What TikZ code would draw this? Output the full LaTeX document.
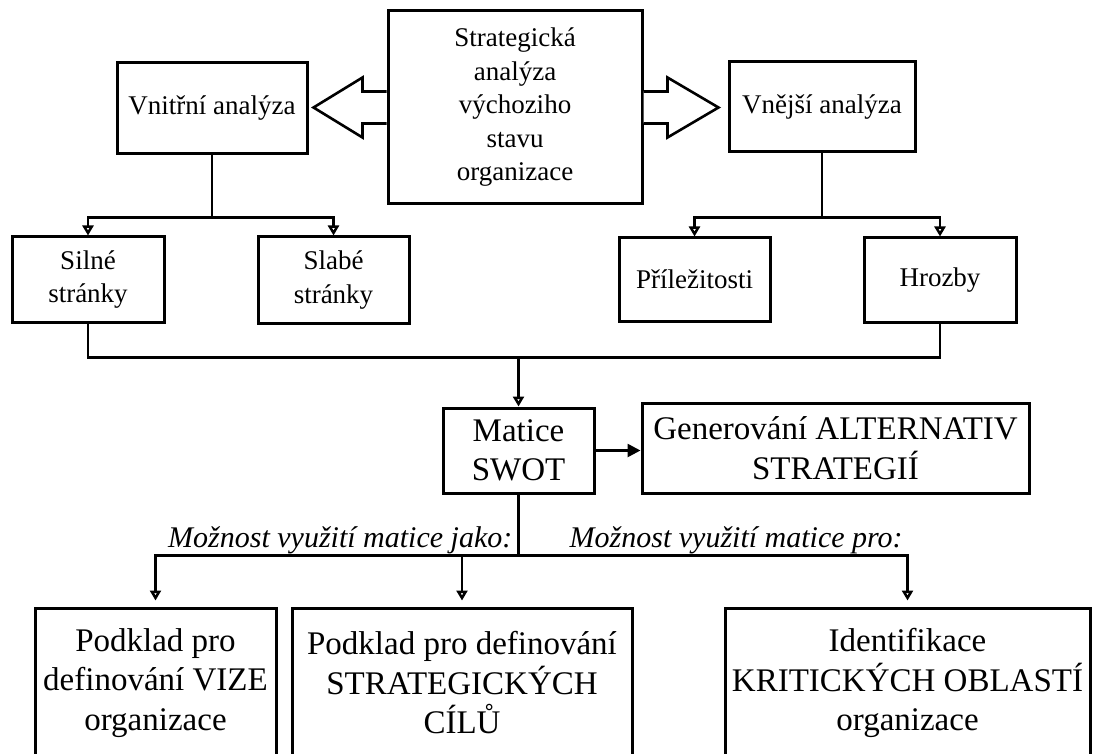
\documentclass[tikz,border=0pt]{standalone}
\usepackage{fontspec}
\setmainfont{Liberation Serif}
\usetikzlibrary{arrows.meta,calc}

\tikzset{
  box/.style={draw,line width=3pt,inner sep=0pt,align=center,font=\fontsize{27}{33.5}\selectfont},
  bigbox/.style={box,font=\fontsize{33}{39.5}\selectfont},
  link/.style={line width=2.6pt,line cap=rect},
  arr/.style={link,-{Triangle[open,length=10pt,width=11pt]}},
  solidarr/.style={link,-{Triangle[length=13pt,width=13pt]}},
  fat/.style={line width=2.6pt,fill=white,line join=miter},
  note/.style={font=\fontsize{30}{36}\selectfont\itshape,inner sep=0pt}
}

\begin{document}
\begin{tikzpicture}[x=1pt,y=-1pt]
    \useasboundingbox (0,0) rectangle (1093,754);
    \clip (0,0) rectangle (1093,754);
    % top row
    \node[box,minimum width=254pt,minimum height=193pt] (S) at (515,107.5) {Strategická\\analýza\\výchoziho\\stavu\\organizace};
    \node[box,minimum width=190pt,minimum height=91pt] (VA) at (212,108.5) {Vnitřní analýza};
    \node[box,minimum width=186pt,minimum height=90pt] (EA) at (822,107) {Vnější analýza};
    \draw[fat] ($(S.west)+(0,-16)$) -- ++(-24,0) -- ++(0,-14) -- ++(-49,30) -- ++(49,30) -- ++(0,-14) -- ++(24,0);
    \draw[fat] ($(S.east)+(0,-16)$) -- ++(24,0) -- ++(0,-14) -- ++(51,30) -- ++(-51,30) -- ++(0,-14) -- ++(-24,0);
    % S W O T
    \node[box,minimum width=152pt,minimum height=85pt] (SW) at (88,279.5) {Silné\\stránky};
    \node[box,minimum width=151pt,minimum height=86pt] (WE) at (333.5,280) {Slabé\\stránky};
    \node[box,minimum width=151pt,minimum height=83pt] (OP) at (694.5,279.5) {Příležitosti};
    \node[box,minimum width=152pt,minimum height=84pt] (TH) at (940,280) {Hrozby};
    \draw[link] (VA.south) -- ++(0,62) coordinate (vsplit);
    \draw[link] (EA.south) -- ++(0,64) coordinate (esplit);
    \foreach \b in {SW,WE} \draw[arr] (vsplit) -| (\b.north);
    \foreach \b in {OP,TH} \draw[arr] (esplit) -| (\b.north);
    % matrix
    \node[bigbox,minimum width=151pt,minimum height=85pt] (M) at (518.5,450.5) {Matice\\SWOT};
    \node[bigbox,minimum width=387pt,minimum height=90pt] (G) at (835.5,448) {Generování ALTERNATIV\\STRATEGIÍ};
    \coordinate (join) at ($(SW.south)+(0,34)$);
    \draw[link] (SW.south) -- (join) -| (TH.south);
    \draw[arr] (join -| M.north) -- (M.north);
    \draw[solidarr] (M.east) -- (M.east -| G.west);
    % uses
    \node[bigbox,minimum width=241pt,minimum height=150pt] (P1) at (155.5,683) {Podklad pro\\definování VIZE\\organizace};
    \node[bigbox,minimum width=340pt,minimum height=150pt] (P2) at (462,683) {Podklad pro definování\\STRATEGICKÝCH\\CÍLŮ};
    \node[bigbox,minimum width=365pt,minimum height=150pt] (P3) at (907.5,683) {Identifikace\\KRITICKÝCH OBLASTÍ\\organizace};
    \draw[link] (M.south) -- ++(0,61) coordinate (fork);
    \draw[link] (fork -| P1.north) -- (fork -| P3.north);
    \foreach \b in {P1,P2,P3} \draw[arr,shorten >=6pt] (fork -| \b.north) -- (\b.north);
    \node[note,anchor=base east] (as) at ($(fork)+(-6,-8)$) {Možnost využití matice jako:};
    \node[note,anchor=base west] (for) at ($(fork)+(51,-8)$) {Možnost využití matice pro:};
\end{tikzpicture}
\end{document}
